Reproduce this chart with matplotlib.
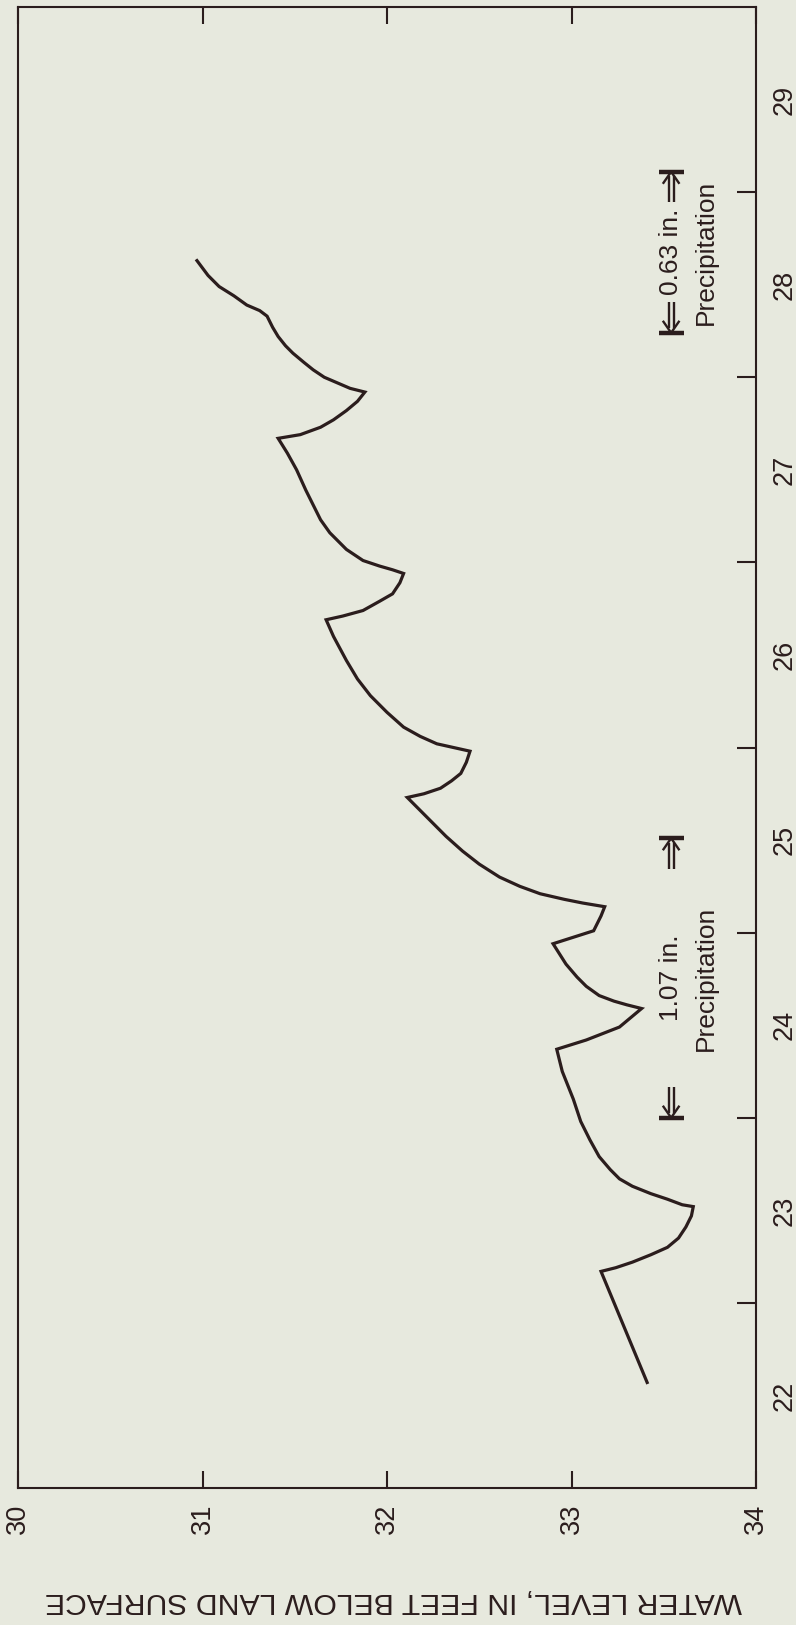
import numpy as np
import matplotlib.pyplot as plt

# hydrograph of the observation well, drawn turned on its side:
# depth to water runs along the bottom, day of the month up the right side
day = [22.57, 23.17, 23.19, 23.22, 23.26, 23.30, 23.35, 23.41, 23.47, 23.52,
       23.53, 23.56, 23.59, 23.63, 23.67, 23.72, 23.79, 23.88, 23.98, 24.10,
       24.25, 24.37, 24.42, 24.49, 24.59, 24.61, 24.63, 24.66, 24.71, 24.76,
       24.83, 24.94, 25.01, 25.09, 25.14, 25.16, 25.18, 25.21, 25.25, 25.30,
       25.37, 25.44, 25.52, 25.62, 25.73, 25.75, 25.78, 25.82, 25.86, 25.92,
       25.98, 26.00, 26.02, 26.06, 26.11, 26.19, 26.28, 26.37, 26.47, 26.60,
       26.69, 26.71, 26.74, 26.79, 26.83, 26.89, 26.94, 26.96, 26.98, 27.01,
       27.07, 27.16, 27.23, 27.39, 27.50, 27.59, 27.67, 27.69, 27.73, 27.77,
       27.82, 27.87, 27.92, 27.94, 27.97, 28.00, 28.04, 28.08, 28.13, 28.17,
       28.22, 28.27, 28.33, 28.36, 28.39, 28.44, 28.49, 28.55, 28.63]
depth = [33.41, 33.16, 33.24, 33.33, 33.43, 33.52, 33.58, 33.62, 33.65, 33.66,
         33.60, 33.52, 33.43, 33.33, 33.26, 33.21, 33.15, 33.10, 33.05, 33.01,
         32.95, 32.92, 33.08, 33.26, 33.38, 33.30, 33.23, 33.15, 33.08, 33.03,
         32.97, 32.90, 33.12, 33.16, 33.18, 33.06, 32.96, 32.83, 32.72, 32.61,
         32.50, 32.41, 32.32, 32.22, 32.11, 32.20, 32.29, 32.35, 32.40, 32.43,
         32.45, 32.36, 32.27, 32.18, 32.09, 32.00, 31.91, 31.84, 31.78, 31.71,
         31.67, 31.76, 31.87, 31.96, 32.03, 32.07, 32.09, 32.03, 31.96, 31.87,
         31.78, 31.69, 31.64, 31.56, 31.51, 31.46, 31.41, 31.53, 31.64, 31.71,
         31.78, 31.84, 31.88, 31.80, 31.73, 31.66, 31.60, 31.55, 31.49, 31.45,
         31.41, 31.38, 31.35, 31.31, 31.24, 31.17, 31.09, 31.03, 30.97]

depth_ticks = [30, 31, 32, 33, 34]
day_bounds = [23, 24, 25, 26, 27, 28, 29]
day_labels = ['22', '23', '24', '25', '26', '27', '28', '29']

precip_start = [24.00, 28.24]
precip_end = [25.51, 29.11]
precip_amount = ['1.07 in.', '0.63 in.']

plt.rcParams['font.family'] = ['Liberation Sans', 'DejaVu Sans']
ink = '#2b1d1d'
paper = '#e7e9de'

fig = plt.figure(figsize=(7.96, 16.25), dpi=100, facecolor=paper)
ax = fig.add_axes([18 / 796, 1 - 1488 / 1625, 738 / 796, 1481 / 1625])
ax.set_facecolor(paper)

ax.plot(depth, day, color=ink, lw=2.3, solid_joinstyle='miter')

ax.set_xlim(30, 34)
ax.set_ylim(22, 30)
for s in ax.spines.values():
    s.set_color(ink)
    s.set_linewidth(1.5)

# depth ticks on bottom and top, labels turned on their side
ax.set_xticks(depth_ticks)
ax.tick_params(axis='x', direction='in', length=12, width=1.5, color=ink,
               top=True, labelrotation=90, pad=11, labelsize=19.5,
               labelcolor=ink)

# day boundaries as inward ticks on the right, day names centred between them
ax.yaxis.tick_right()
ax.set_yticks(day_bounds, labels=[])
ax.set_yticks(np.arange(22.5, 30, 1.0), labels=day_labels, minor=True)
ax.tick_params(axis='y', which='major', direction='in', length=14, width=1.5,
               color=ink, left=False, right=True)
ax.tick_params(axis='y', which='minor', direction='in', length=0, pad=11,
               labelrotation=90, labelsize=19.5, labelcolor=ink)
for t in ax.get_yticklabels(minor=True):
    t.set_verticalalignment('center')

fig.text(394 / 796, 1 - 1601 / 1625, 'WATER LEVEL, IN FEET BELOW LAND SURFACE',
         rotation=180, ha='center', va='center', fontsize=21.7, color=ink)


def limit_arrow(ax, x, y_bar, d):
    # double-shafted arrow pointing at a bar; d=+1 shaft above the bar, -1 below
    hw, g, hl, hh, L = 0.068, 0.014, 0.065, 0.045, 0.165
    kw = dict(color=ink, lw=1.7, solid_capstyle='butt')
    ax.plot([x - hw, x + hw], [y_bar, y_bar], color=ink, lw=3.2,
            solid_capstyle='butt')
    for dx in (-g, g):
        ax.plot([x + dx, x + dx], [y_bar + d * L, y_bar + d * 0.025], **kw)
    ax.plot([x - hh, x, x + hh], [y_bar + d * hl, y_bar, y_bar + d * hl], **kw)


for s, e, amt in zip(precip_start, precip_end, precip_amount):
    mid = (s + e) / 2
    ax.text(33.54, mid, amt, rotation=90, ha='center', va='center',
            fontsize=19, color=ink)
    ax.text(33.73, mid, 'Precipitation', rotation=90, ha='center',
            va='center', fontsize=19, color=ink)
    limit_arrow(ax, 33.54, s, +1)
    limit_arrow(ax, 33.54, e, -1)

fig.savefig('out.png', dpi=100, facecolor=paper)
